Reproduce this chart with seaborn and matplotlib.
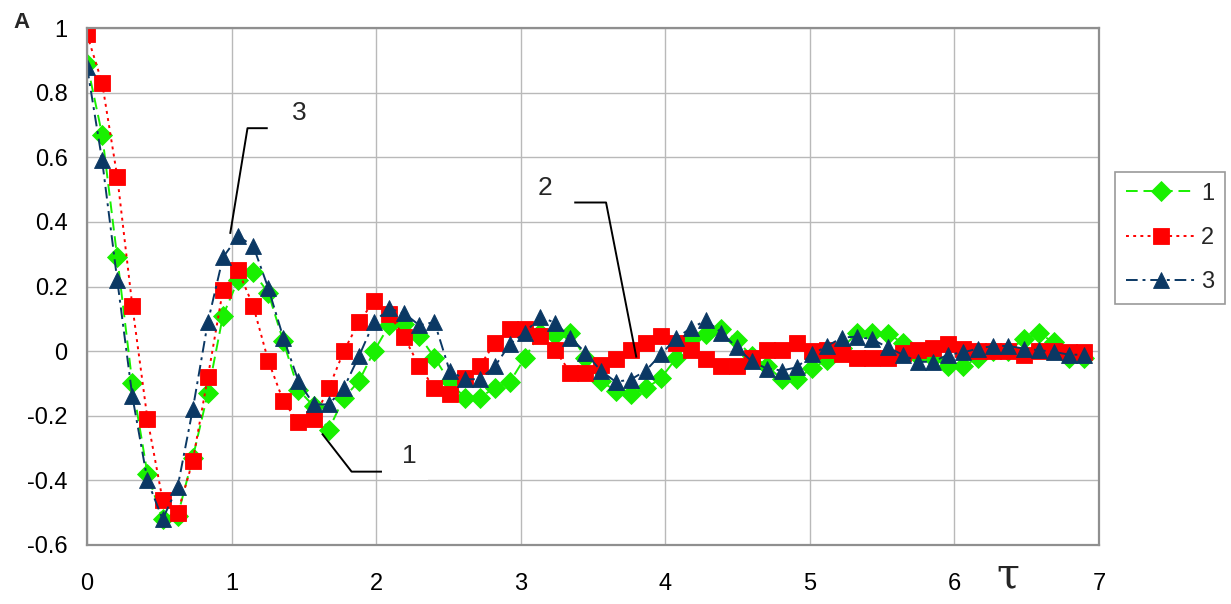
import numpy as np
import pandas as pd
import matplotlib
matplotlib.use("Agg")
import matplotlib.pyplot as plt
import seaborn as sns

# ---------------- data ----------------
n_points = 67
tau = np.arange(n_points) * 7.0 / 67.0

series1 = [0.89, 0.67, 0.29, -0.10, -0.38, -0.52, -0.51, -0.33, -0.13, 0.11,
           0.22, 0.245, 0.18, 0.03, -0.12, -0.17, -0.243, -0.145, -0.093, 0.0,
           0.08, 0.085, 0.047, -0.02, -0.094, -0.144, -0.144, -0.113, -0.095, -0.02,
           0.057, 0.05, 0.055, -0.022, -0.093, -0.122, -0.133, -0.115, -0.084, -0.022,
           0.036, 0.054, 0.07, 0.034, -0.015, -0.045, -0.087, -0.087, -0.052, -0.028,
           0.01, 0.057, 0.057, 0.054, 0.026, -0.015, -0.02, -0.047, -0.047, -0.02,
           0.0, 0.0, 0.037, 0.055, 0.028, -0.02, -0.02]
series2 = [0.98, 0.83, 0.54, 0.14, -0.21, -0.46, -0.50, -0.34, -0.08, 0.19,
           0.25, 0.14, -0.03, -0.155, -0.22, -0.21, -0.115, 0.0, 0.09, 0.155,
           0.115, 0.043, -0.047, -0.115, -0.134, -0.084, -0.046, 0.025, 0.068, 0.068,
           0.047, 0.003, -0.067, -0.067, -0.043, -0.024, 0.003, 0.025, 0.047, 0.025,
           0.002, -0.025, -0.047, -0.047, -0.021, 0.003, 0.004, 0.025, 0.0, 0.004,
           -0.01, -0.021, -0.021, -0.021, -0.006, 0.002, 0.009, 0.022, 0.007, 0.0,
           0.0, 0.0, -0.012, 0.0, 0.0, -0.003, -0.004]
series3 = [0.88, 0.59, 0.22, -0.14, -0.40, -0.52, -0.42, -0.18, 0.09, 0.29,
           0.355, 0.326, 0.195, 0.041, -0.093, -0.165, -0.165, -0.114, -0.016, 0.09,
           0.132, 0.117, 0.08, 0.09, -0.06, -0.087, -0.087, -0.047, 0.022, 0.057,
           0.107, 0.087, 0.042, -0.005, -0.06, -0.095, -0.088, -0.06, -0.01, 0.04,
           0.072, 0.095, 0.057, 0.012, -0.031, -0.054, -0.06, -0.05, -0.01, 0.016,
           0.042, 0.045, 0.036, 0.012, -0.011, -0.033, -0.033, -0.011, -0.004, 0.008,
           0.016, 0.016, 0.008, 0.003, -0.002, -0.011, -0.011]
series_names = ["1", "2", "3"]

x_ticks = [0, 1, 2, 3, 4, 5, 6, 7]
x_tick_labels = ["0", "1", "2", "3", "4", "5", "6", "7"]
y_ticks = [1.0, 0.8, 0.6, 0.4, 0.2, 0.0, -0.2, -0.4, -0.6]
y_tick_labels = ["1", "0.8", "0.6", "0.4", "0.2", "0", "-0.2", "-0.4", "-0.6"]

# ---------------- style ----------------
sns.set_theme(style="white")
plt.rcParams["font.family"] = ["Liberation Sans", "DejaVu Sans"]

fig = plt.figure(figsize=(12.31, 6.04), dpi=100)
ax = fig.add_axes([0.0707, 0.0977, 0.8221, 0.8559])

df = pd.DataFrame({"tau": tau, "s1": series1, "s2": series2, "s3": series3})

styles = [
    dict(y="s1", color="#19f000", marker="D", linestyle=(0, (6, 3)), ms=10),
    dict(y="s2", color="#ff0000", marker="s", linestyle=(0, (1.5, 2.2)), ms=11),
    dict(y="s3", color="#0b3864", marker="^", linestyle=(0, (6, 2.5, 1.5, 2.5)), ms=11.5),
]
for name, st in zip(series_names, styles):
    sns.lineplot(data=df, x="tau", y=st["y"], ax=ax, color=st["color"],
                 marker=st["marker"], markersize=st["ms"], markeredgewidth=0.6,
                 markeredgecolor=st["color"], linestyle=st["linestyle"],
                 linewidth=1.4, label=name, sort=False, legend=False)

ax.set_xlim(0, 7)
ax.set_ylim(-0.6, 1.0)
ax.set_xticks(x_ticks)
ax.set_xticklabels(x_tick_labels)
ax.set_yticks(y_ticks)
ax.set_yticklabels(y_tick_labels)
ax.set_xlabel("")
ax.set_ylabel("")
ax.grid(True, color="#b9b9b9", linewidth=1.0)
ax.set_axisbelow(True)
ax.tick_params(axis="both", length=0, labelsize=17, colors="black")
ax.tick_params(axis="y", pad=14)
ax.tick_params(axis="x", pad=20)
for side, sp in ax.spines.items():
    sp.set_visible(True)
    sp.set_color("#8f8f8f")
    sp.set_linewidth(1.6)

# leader annotations
ax.plot([0.99, 1.11, 1.25], [0.363, 0.69, 0.69], color="black", lw=1.4, solid_capstyle="butt")
ax.text(1.47, 0.736, "3", fontsize=19, ha="center", va="center")
ax.plot([3.80, 3.59, 3.37], [-0.02, 0.46, 0.46], color="black", lw=1.4, solid_capstyle="butt")
ax.text(3.17, 0.506, "2", fontsize=19, ha="center", va="center")
ax.plot([1.625, 1.83, 2.04], [-0.255, -0.373, -0.373], color="black", lw=1.4, solid_capstyle="butt")
ax.text(2.23, -0.326, "1", fontsize=19, ha="center", va="center",
        bbox=dict(facecolor="white", edgecolor="none", pad=8))

# legend
handles = ax.get_lines()[:3]
leg = fig.legend(handles, series_names, loc="upper left",
                 bbox_to_anchor=(1115 / 1231, 1 - 172 / 604), bbox_transform=fig.transFigure,
                 borderaxespad=0, fontsize=17, frameon=True, fancybox=False,
                 edgecolor="#9a9a9a", framealpha=1, handlelength=3.0,
                 handletextpad=0.2, labelspacing=0.95, borderpad=0.45)
leg.get_frame().set_linewidth(1.2)

fig.text(22 / 1231, 1 - 22 / 604, "A", fontsize=16, fontweight="bold", ha="center", va="center")
fig.text(1008 / 1231, 1 - 575 / 604, "τ", fontsize=30, ha="center", va="center",
         family=["DejaVu Serif"])

fig.savefig("out.png", dpi=100)
